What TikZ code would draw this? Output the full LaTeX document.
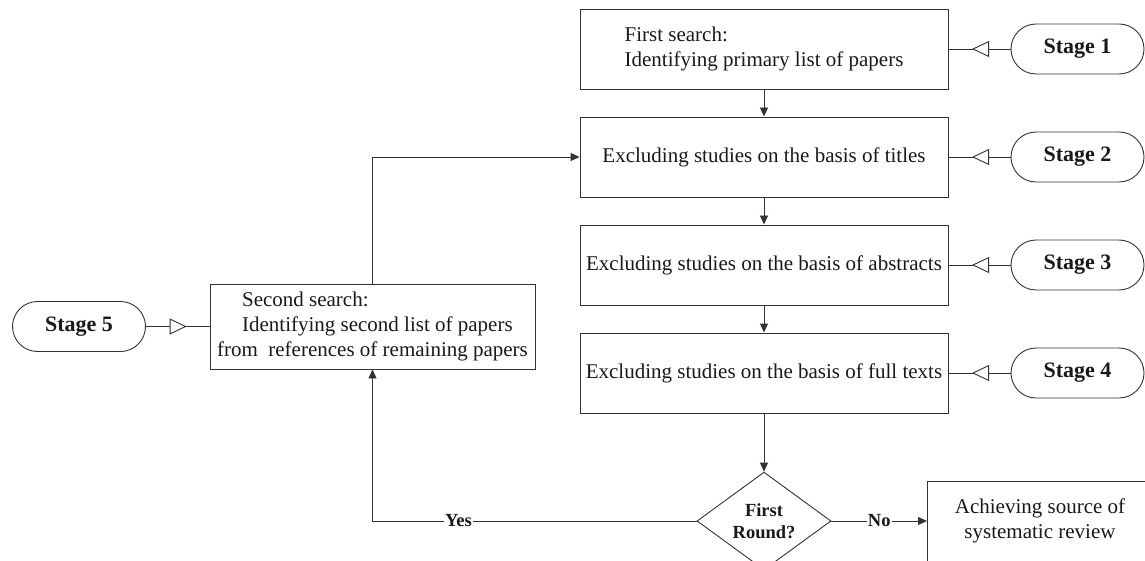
\documentclass[tikz,border=0pt]{standalone}
\usepackage{fontspec}
\setmainfont{Liberation Serif}
\usetikzlibrary{arrows.meta,shapes.geometric,shapes.misc,decorations.markings}
\newcommand\mainsz{\fontsize{21}{25}\selectfont}
\newcommand\stagesz{\fontsize{22}{26}\selectfont}
\newcommand\smallsz{\fontsize{18.5}{22}\selectfont}
\begin{document}
\begin{tikzpicture}[x=1pt,y=-1pt,
  line width=0.9pt, draw=black!80, text=black!90,
  procbox/.style={draw, rectangle, minimum width=368pt, minimum height=80pt, inner sep=0pt, font=\mainsz, align=center},
  stagebox/.style={draw, rounded rectangle, minimum width=133pt, minimum height=50pt, inner sep=0pt, font=\stagesz\bfseries},
  flowarrow/.style={-{Triangle[length=9pt,width=8pt]}},
  stagelink/.style={postaction={decorate}, decoration={markings, mark=at position #1 with {\arrow{Triangle[fill=white,length=17pt,width=16pt,line width=0.9pt]}}}},
  lbl/.style={fill=white, inner sep=1pt, font=\smallsz\bfseries}
]
\clip (0,0) rectangle (1145,561);
\fill[white] (0,0) rectangle (1145,561);

% main column
\node[procbox, align=left] (b1) at (764,49) {First search:\\Identifying primary list of papers};
\node[procbox] (b2) at (764,157) {Excluding studies on the basis of titles};
\node[procbox] (b3) at (764,265) {Excluding studies on the basis of abstracts};
\node[procbox] (b4) at (764,373) {Excluding studies on the basis of full texts};

% second search box
\node[draw, minimum width=325pt, minimum height=85pt, inner sep=0pt, font=\mainsz, align=left] (b5) at (372.5,326.5)
  {\hspace*{25pt}Second search:\\\hspace*{25pt}Identifying second list of papers\\from\ \ references of remaining papers};

% decision
\node[draw, diamond, minimum width=134pt, minimum height=80pt, inner sep=0pt, font=\smallsz\bfseries, align=center] (dia) at (764,521) {First\\Round?};

% final box
\node[draw, rectangle, minimum width=240pt, minimum height=110pt, anchor=north west, inner sep=0pt] (b6) at (927,481) {};
\node[font=\mainsz, align=center, inner sep=0pt] (b6t) at (1040,521) {Achieving source of\\systematic review};

% stages
\node[stagebox] (s1) at (1077.5,49) {Stage 1};
\node[stagebox] (s2) at (1077.5,157) {Stage 2};
\node[stagebox] (s3) at (1077.5,265) {Stage 3};
\node[stagebox] (s4) at (1077.5,373) {Stage 4};
\node[stagebox] (s5) at (79,326.5) {Stage 5};

% stage links
\draw[stagelink=0.62] (s1.west) -- (b1.east);
\draw[stagelink=0.62] (s2.west) -- (b2.east);
\draw[stagelink=0.62] (s3.west) -- (b3.east);
\draw[stagelink=0.62] (s4.west) -- (b4.east);
\draw[stagelink=0.64] (s5.east) -- (b5.west);

% flow
\draw[flowarrow] (b1.south) -- (b2.north);
\draw[flowarrow] (b2.south) -- (b3.north);
\draw[flowarrow] (b3.south) -- (b4.north);
\draw[flowarrow] (b4.south) -- (dia.north);
\draw[flowarrow] (b5.north) |- (b2.west);
\draw[flowarrow] (dia.west) -- node[lbl, pos=0.735] {Yes} (dia.west -| b5.south) -- (b5.south);
\draw[flowarrow] (dia.east) -- node[lbl, pos=0.5] {No} (dia.east -| b6.west);
\end{tikzpicture}
\end{document}
